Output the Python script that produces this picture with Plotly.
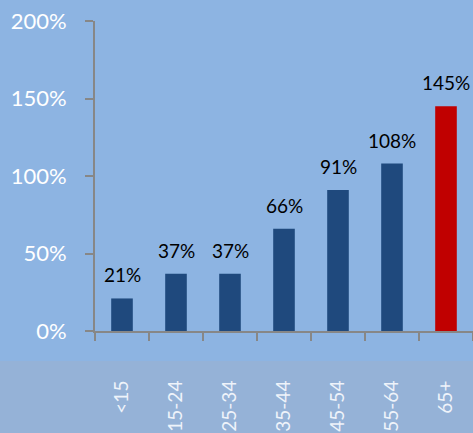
import plotly.graph_objects as go

categories = ["<15", "15-24", "25-34", "35-44", "45-54", "55-64", "65+"]
values = [21, 37, 37, 66, 91, 108, 145]
label_text = ["21%", "37%", "37%", "66%", "91%", "108%", "145%"]
bar_colors = ["#1F497D"] * 6 + ["#C00000"]
y_ticks = [0, 50, 100, 150, 200]
y_tick_text = ["0%", "50%", "100%", "150%", "200%"]

W, H = 473, 433
ML, MR, MT, MB = 95, 0, 21, 102
plot_h = H - MT - MB

fig = go.Figure()
fig.add_trace(go.Bar(
    x=categories, y=values, marker=dict(color=bar_colors, line=dict(width=0)),
    width=0.4, hoverinfo="skip", showlegend=False,
))

for c, v, t in zip(categories, values, label_text):
    fig.add_annotation(x=c, y=v, text=t, showarrow=False, yanchor="bottom",
                       yshift=10, font=dict(family="Lato", size=19, color="#000000"))

# lighter band behind category labels
fig.add_shape(type="rect", xref="paper", yref="paper",
              x0=-ML / (W - ML - MR), x1=1, y0=-MB / plot_h, y1=-30 / plot_h,
              fillcolor="#95B2D7", line=dict(width=0), layer="below")

fig.update_layout(
    width=W, height=H,
    margin=dict(l=ML, r=MR, t=MT, b=MB, autoexpand=False),
    paper_bgcolor="#8DB4E2", plot_bgcolor="#8DB4E2",
    bargap=0.6,
    xaxis=dict(
        type="category", range=[-0.5, 6.5], showgrid=False, automargin=False,
        showline=True, linecolor="#878787", linewidth=2,
        ticks="outside", tickson="boundaries", ticklen=8, tickcolor="#878787", tickwidth=2,
        tickangle=-90, tickfont=dict(family="Lato", size=19, color="#EEF3FA"),
        ticklabelstandoff=40,
    ),
    yaxis=dict(
        range=[0, 200], tickvals=y_ticks, ticktext=y_tick_text, showgrid=False,
        automargin=False,
        zeroline=False, showline=True, linecolor="#878787", linewidth=2,
        ticks="outside", ticklen=8, tickcolor="#878787", tickwidth=2,
        tickfont=dict(family="Lato", size=22, color="#FFFFFF"),
        ticklabelstandoff=14,
    ),
)

fig.write_html("out.html", config={"displayModeBar": False},
               post_script="document.body.style.margin='0';document.body.style.background='#8DB4E2';")
